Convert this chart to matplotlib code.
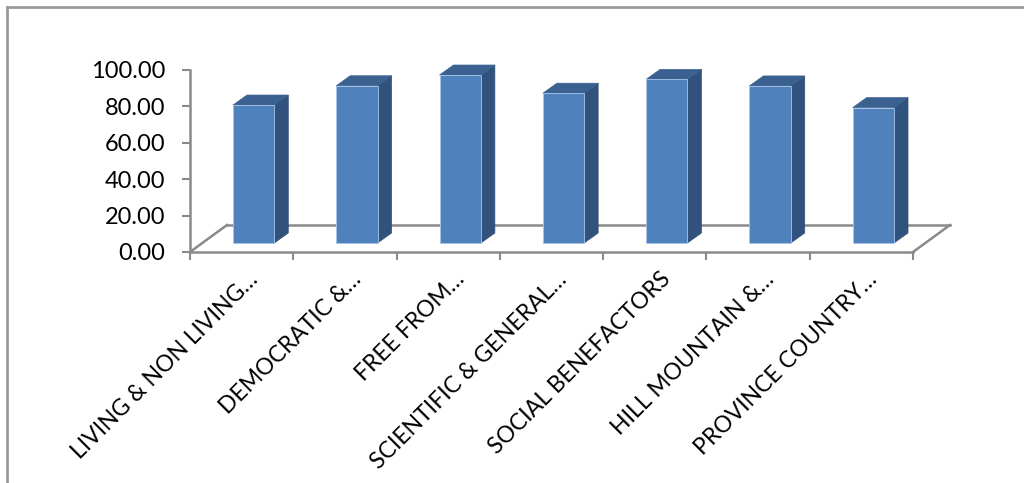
import matplotlib
matplotlib.use("Agg")
import matplotlib.pyplot as plt
from matplotlib.patches import Polygon
from matplotlib.lines import Line2D
from matplotlib.transforms import ScaledTranslation, IdentityTransform

categories = ["LIVING & NON LIVING…", "DEMOCRATIC &…", "FREE FROM…",
              "SCIENTIFIC & GENERAL…", "SOCIAL BENEFACTORS", "HILL MOUNTAIN &…",
              "PROVINCE COUNTRY…"]
values = [75.8, 86.4, 92.3, 82.3, 89.9, 86.3, 74.4]
yticks = [0, 20, 40, 60, 80, 100]

DPI = 100
fig = plt.figure(figsize=(10.24, 4.83), dpi=DPI)
W, H = 1024, 483
plt.rcParams['font.family'] = ['Lato', 'DejaVu Sans']

ax = fig.add_axes([190 / W, (H - 252) / H, (913 - 190) / W, 182 / H])
n = len(categories)
ax.set_xlim(-0.5, n - 0.5)
ax.set_ylim(0, 100)
for s in ["top", "right"]:
    ax.spines[s].set_visible(False)
gray = "#8a8a8a"
for s in ["left", "bottom"]:
    ax.spines[s].set_color(gray)
    ax.spines[s].set_linewidth(1.8)
    ax.spines[s].set_zorder(1)

ax.set_yticks(yticks)
ax.set_yticklabels([f"{v:.2f}" for v in yticks], fontsize=17)
ax.tick_params(axis="y", length=6, width=1.5, color=gray, pad=12)

bounds = [i - 0.5 for i in range(n + 1)]
ax.set_xticks(bounds)
ax.set_xticklabels([""] * len(bounds))
ax.tick_params(axis="x", which="major", length=6, width=1.5, color=gray, direction="out")
ax.set_xticks(list(range(n)), minor=True)
ax.set_xticklabels(categories, minor=True, rotation=45, ha="right",
                   rotation_mode="anchor", fontsize=16.5)
ax.tick_params(axis="x", which="minor", length=0, pad=12)
for lab in ax.get_xticklabels(minor=True):
    lab.set_transform(lab.get_transform() + ScaledTranslation(5 / DPI, 0, fig.dpi_scale_trans))

# floor (in display pixels)
fdx, fdy = 37, 27
x0d, y0d = ax.transData.transform((-0.5, 0))
x1d, y1d = ax.transData.transform((n - 0.5, 0))
floor_kw = dict(color=gray, lw=1.8, transform=IdentityTransform(), zorder=1, clip_on=False)
ax.add_line(Line2D([x0d, x0d + fdx], [y0d, y0d + fdy], **floor_kw))
ax.add_line(Line2D([x1d, x1d + fdx], [y1d, y1d + fdy], **floor_kw))
ax.add_line(Line2D([x0d + fdx, x1d + fdx], [y0d + fdy, y1d + fdy], **floor_kw))

# bars: front faces shifted into the floor depth
bdx, bdy = 12, 9
sdx, sdy = 14, 10
front = "#4f81bd"
side = "#31527c"
top = "#3b6190"
bars = ax.bar(range(n), values, width=0.40, color=front, edgecolor="#a9c4e6",
              linewidth=0.6, zorder=3)
shift = ScaledTranslation(bdx / DPI, bdy / DPI, fig.dpi_scale_trans)
for b in bars:
    b.set_transform(ax.transData + shift)
    b.set_clip_on(False)
    (xl, yb), (xr, yt) = ax.transData.transform([(b.get_x(), 0), (b.get_x() + b.get_width(), b.get_height())])
    xl += bdx; xr += bdx; yb += bdy; yt += bdy
    sp = Polygon([(xr, yb), (xr, yt), (xr + sdx, yt + sdy), (xr + sdx, yb + sdy)],
                 closed=True, facecolor=side, edgecolor=side, lw=0.5,
                 transform=IdentityTransform(), zorder=2, clip_on=False)
    tp = Polygon([(xl, yt), (xr, yt), (xr + sdx, yt + sdy), (xl + sdx, yt + sdy)],
                 closed=True, facecolor=top, edgecolor=top, lw=0.5,
                 transform=IdentityTransform(), zorder=2, clip_on=False)
    ax.add_patch(sp)
    ax.add_patch(tp)

# outer frame (left and top edges)
frame_kw = dict(color="#9a9a9a", lw=2.0, transform=IdentityTransform(), clip_on=False)
fig.add_artist(Line2D([7, 7], [0, H - 7], **frame_kw))
fig.add_artist(Line2D([7, W], [H - 7, H - 7], **frame_kw))

fig.savefig("out.png", dpi=DPI)
